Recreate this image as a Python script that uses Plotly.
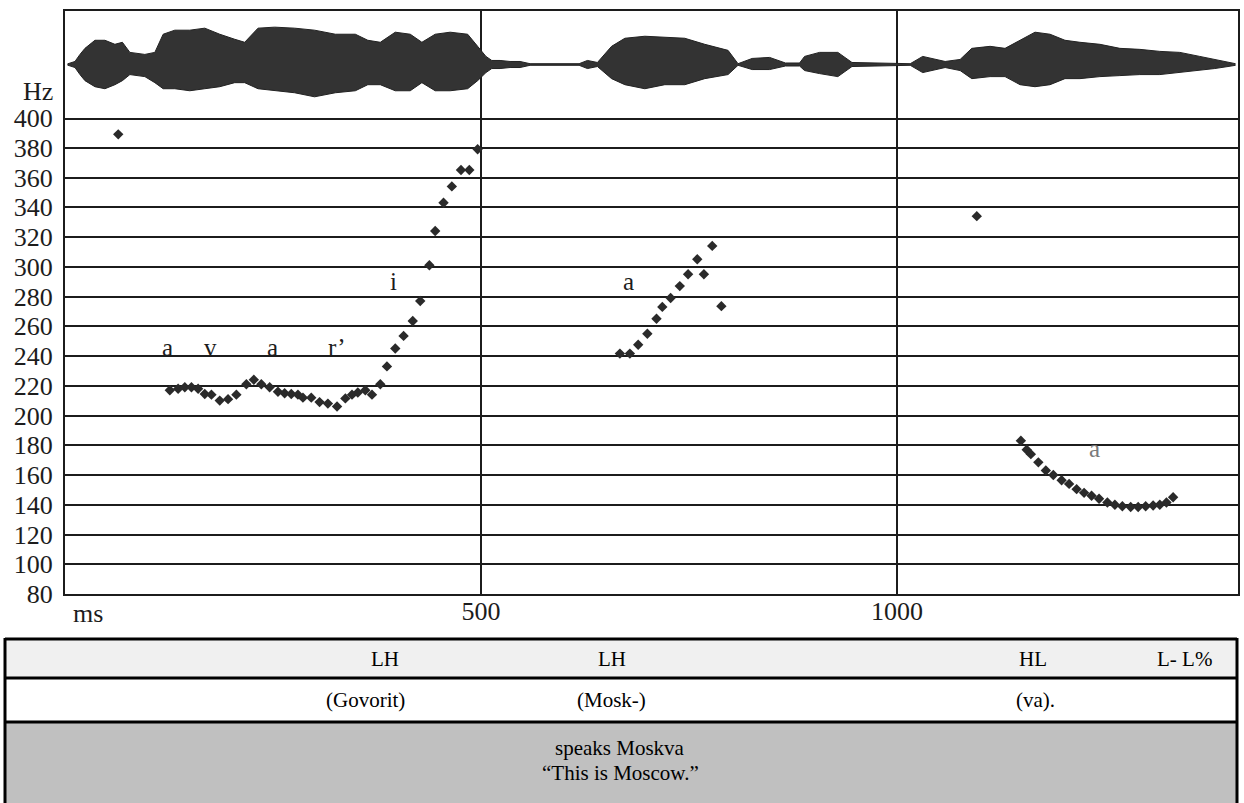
import plotly.graph_objects as go

# ---------------- data ----------------
# F0 track: time (ms) and fundamental frequency (Hz)
f0_ms = [64,
         126, 136, 144, 152, 160, 168, 176, 186, 196, 206, 218, 227, 236, 246, 256, 264, 272, 280,
         286, 296, 306, 316, 327, 337, 345, 352, 361, 369, 379, 387, 397, 407, 418, 427, 438, 445,
         455, 465, 476, 486, 496,
         667, 679, 689, 700, 711, 718, 728, 739, 749, 760, 768, 778, 789,
         1096,
         1149, 1156, 1161, 1170, 1179, 1188, 1198, 1207, 1216, 1225, 1234, 1243, 1253, 1262, 1271,
         1281, 1290, 1299, 1308, 1316, 1324, 1332]
f0_hz = [389,
         217, 218, 219, 219, 218, 214.5, 214, 210, 211, 214, 221, 224, 221, 219, 216, 215, 214.5, 214,
         212, 212, 209, 208, 206, 211.5, 214, 215.5, 217, 214, 221, 233, 245, 253.5, 263.5, 277, 301, 324,
         343, 354, 365, 365, 379,
         241.6, 241.6, 247.6, 255, 265, 273, 279, 287, 295, 305, 295, 314, 273.5,
         334,
         183, 177, 174, 168.5, 163, 160, 156.5, 154, 150.5, 148, 146, 144, 141.5, 140, 139,
         138.5, 138.5, 139, 139.5, 140, 141.5, 145]

# Waveform amplitude envelope (time ms, upper, lower)
wave_ms = [3, 12, 18, 24, 36, 48, 60, 69, 78, 96, 108, 118, 132, 150, 168, 186, 204, 216, 232, 252,
           276, 300, 325, 349, 364, 379, 397, 415, 429, 445, 463, 484, 496, 506, 513, 523, 535, 547,
           559, 618, 628, 640, 657, 673, 697, 721, 745, 769, 797, 809, 826, 847, 866, 883, 889, 907,
           929, 946, 1016, 1031, 1046, 1058, 1076, 1090, 1112, 1130, 1148, 1166, 1184, 1202, 1220,
           1244, 1268, 1292, 1316, 1340, 1364, 1382, 1398, 1407]
wave_up = [0.6, 3, 10, 16, 24, 24, 20, 22, 12, 10, 12, 30, 34, 34, 36, 30, 25, 22, 36, 37,
           36, 34, 30, 30, 24, 22, 32, 30, 22, 30, 32, 30, 18, 8, 4, 4, 3, 3,
           0.8, 0.8, 4, 2, 18, 26, 28, 27, 26, 20, 14, 0.8, 6, 7, 1.5, 1.5, 8, 12,
           12, 2, 0.8, 8, 5, 3, 5, 16, 18, 16, 24, 32, 30, 24, 22,
           20, 16, 15, 13, 12, 8, 5, 2, 0.8]
wave_low = [0.6, 3, 10, 16, 22, 24, 20, 16, 10, 12, 18, 24, 24, 26, 24, 22, 18, 18, 24, 26,
            28, 32, 28, 26, 20, 20, 26, 26, 18, 26, 26, 24, 16, 8, 4, 4, 3, 3,
            0.8, 0.8, 4, 2, 14, 20, 24, 20, 20, 14, 10, 0.8, 5, 5, 1.5, 1.5, 6, 9,
            12, 2, 0.8, 8, 5, 3, 6, 14, 12, 12, 20, 22, 20, 14, 14,
            12, 11, 10, 10, 8, 6, 4, 2, 0.8]

# segment labels inside the F0 panel
seg_labels = ["a", "v", "a", "r\u2019", "i", "a", "a"]
seg_ms = [123, 175, 249, 327, 395, 677, 1237]
seg_hz = [246, 246, 246, 246, 290, 290, 178]

# y ticks
hz_ticks = list(range(80, 401, 20))
ms_ticks = [500, 1000]
ms_ticktext = ["500", "1000"]

# table rows
tone_labels = ["LH", "LH", "HL", "L- L%"]
tone_ms = [385, 657, 1163, 1346]
word_labels = ["(Govorit)", "(Mosk-)", "(va)."]
word_ms = [361, 657, 1166]
gloss_lines = ["speaks Moskva", "\u201cThis is Moscow.\u201d"]

# ---------------- layout geometry ----------------
W, H = 1244, 803
def py(p):
    return 1 - p / H

SERIF = "Liberation Serif, Times New Roman, serif"
INK = "#1c1c1c"

fig = go.Figure()

# waveform envelope
fig.add_trace(go.Scatter(x=wave_ms, y=wave_up, xaxis="x2", yaxis="y2", mode="lines",
                         line=dict(color="#222222", width=1), hoverinfo="skip"))
fig.add_trace(go.Scatter(x=wave_ms, y=[-v for v in wave_low], xaxis="x2", yaxis="y2",
                         mode="lines", fill="tonexty", fillcolor="#333333",
                         line=dict(color="#222222", width=1), hoverinfo="skip"))

# F0 points
fig.add_trace(go.Scatter(x=f0_ms, y=f0_hz, mode="markers",
                         marker=dict(symbol="diamond", size=8, color="#2a2a2a"),
                         hoverinfo="skip"))

xdom = [65 / W, 1238 / W]
fig.update_layout(
    template="none",
    width=W, height=H, autosize=False,
    margin=dict(l=0, r=0, t=0, b=0, pad=0, autoexpand=False),
    paper_bgcolor="white", plot_bgcolor="white", showlegend=False,
    font=dict(family=SERIF, color=INK, size=26),
    xaxis=dict(domain=xdom, range=[0, 1410], anchor="y", automargin=False,
               tickvals=ms_ticks, ticktext=ms_ticktext, ticks="",
               showgrid=True, gridcolor=INK, gridwidth=2,
               showline=True, linecolor=INK, linewidth=2, zeroline=False,
               tickfont=dict(size=26, family=SERIF, color=INK), ticklabelstandoff=-7),
    xaxis2=dict(domain=xdom, range=[0, 1410], anchor="y2", matches="x", automargin=False,
                tickvals=ms_ticks, showticklabels=False, ticks="",
                showgrid=True, gridcolor=INK, gridwidth=2,
                showline=True, mirror=True, linecolor=INK, linewidth=2, zeroline=False),
    yaxis=dict(domain=[py(594), py(118)], range=[80, 400], anchor="x", automargin=False,
               tickvals=hz_ticks, ticks="",
               showgrid=True, gridcolor=INK, gridwidth=2,
               showline=True, mirror=True, linecolor=INK, linewidth=2, zeroline=False,
               tickfont=dict(size=26, family=SERIF, color=INK), ticklabelstandoff=5),
    yaxis2=dict(domain=[py(118), py(11)], range=[-53, 53], anchor="x2", automargin=False,
                showticklabels=False, ticks="", showgrid=False, zeroline=False,
                showline=True, mirror=True, linecolor=INK, linewidth=2),
)

ann = []
C = dict(xanchor="center", yanchor="middle", showarrow=False)
# Hz and ms axis captions
ann.append(dict(text="Hz", x=38 / W, y=py(91), xref="paper", yref="paper",
                font=dict(size=26, family=SERIF, color=INK), **C))
ann.append(dict(text="ms", x=88 / W, y=py(613), xref="paper", yref="paper",
                font=dict(size=26, family=SERIF, color=INK), **C))
# segment labels
for i, (t, xm, yh) in enumerate(zip(seg_labels, seg_ms, seg_hz)):
    col = "#7a7a7a" if i == len(seg_labels) - 1 else INK
    ann.append(dict(text=t, x=xm, y=yh, xref="x", yref="y",
                    font=dict(size=25, family=SERIF, color=col), **C))

# ---------------- table below ----------------
L, R = 5 / W, 1237 / W
shapes = [
    dict(type="rect", xref="paper", yref="paper", x0=L, x1=R, y0=py(678), y1=py(639),
         fillcolor="#f0f0f0", line=dict(width=0), layer="below"),
    dict(type="rect", xref="paper", yref="paper", x0=L, x1=R, y0=py(722), y1=py(678),
         fillcolor="#ffffff", line=dict(width=0), layer="below"),
    dict(type="rect", xref="paper", yref="paper", x0=L, x1=R, y0=0, y1=py(722),
         fillcolor="#c0c0c0", line=dict(width=0), layer="below"),
]
for yy, wdt in [(639, 3), (678, 3), (722, 3)]:
    shapes.append(dict(type="line", xref="paper", yref="paper", x0=L, x1=R,
                       y0=py(yy), y1=py(yy), line=dict(color="black", width=wdt)))
for xx in [L, R]:
    shapes.append(dict(type="line", xref="paper", yref="paper", x0=xx, x1=xx,
                       y0=0, y1=py(638), line=dict(color="black", width=3)))

TFONT = dict(size=21, family=SERIF, color="black")
for t, xm in zip(tone_labels, tone_ms):
    ann.append(dict(text=t, x=xm, y=py(659), xref="x", yref="paper", font=TFONT, **C))
for t, xm in zip(word_labels, word_ms):
    ann.append(dict(text=t, x=xm, y=py(700), xref="x", yref="paper", font=TFONT, **C))
for t, yy in zip(gloss_lines, [748, 773]):
    ann.append(dict(text=t, x=620 / W, y=py(yy), xref="paper", yref="paper", font=TFONT, **C))

fig.update_layout(annotations=ann, shapes=shapes)
fig.write_html("out.html")
